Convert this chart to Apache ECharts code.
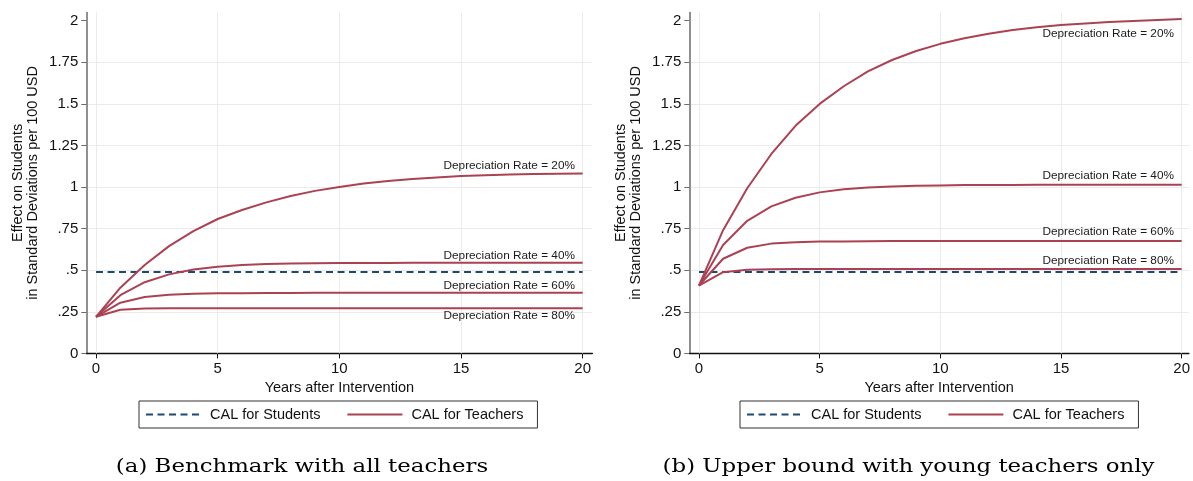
<!DOCTYPE html>
<html>
<head>
<meta charset="utf-8">
<script src="https://cdn.jsdelivr.net/npm/echarts@6/dist/echarts.min.js"></script>
<style>
  html, body { margin: 0; padding: 0; background: #fff; }
  #chart { width: 1193px; height: 481px; }
</style>
</head>
<body>
<div id="chart"></div>
<script>
// Years after the intervention (x axis)
const years = [0, 1, 2, 3, 4, 5, 6, 7, 8, 9, 10, 11, 12, 13, 14, 15, 16, 17, 18, 19, 20];

// Panel (a): benchmark with all teachers
const teachersA20 = [0.220, 0.395, 0.531, 0.645, 0.735, 0.808, 0.862, 0.908, 0.946, 0.977, 1.001, 1.021, 1.037, 1.049, 1.058, 1.066, 1.071, 1.075, 1.078, 1.080, 1.082];
const teachersA40 = [0.220, 0.350, 0.428, 0.475, 0.504, 0.521, 0.531, 0.537, 0.540, 0.542, 0.543, 0.544, 0.544, 0.545, 0.545, 0.545, 0.545, 0.545, 0.545, 0.545, 0.545];
const teachersA60 = [0.220, 0.305, 0.339, 0.353, 0.359, 0.361, 0.362, 0.363, 0.363, 0.364, 0.364, 0.364, 0.364, 0.364, 0.364, 0.364, 0.364, 0.364, 0.364, 0.364, 0.364];
const teachersA80 = [0.220, 0.262, 0.270, 0.272, 0.272, 0.272, 0.272, 0.272, 0.272, 0.272, 0.272, 0.272, 0.272, 0.272, 0.272, 0.272, 0.272, 0.272, 0.272, 0.272, 0.272];
const studentsA = 0.489;

// Panel (b): upper bound with young teachers only
const teachersB20 = [0.408, 0.741, 0.993, 1.199, 1.368, 1.500, 1.606, 1.695, 1.764, 1.818, 1.861, 1.895, 1.922, 1.944, 1.961, 1.974, 1.984, 1.992, 1.999, 2.005, 2.010];
const teachersB40 = [0.408, 0.652, 0.797, 0.884, 0.936, 0.968, 0.987, 0.998, 1.004, 1.008, 1.010, 1.012, 1.013, 1.013, 1.014, 1.014, 1.014, 1.014, 1.014, 1.014, 1.014];
const teachersB60 = [0.408, 0.569, 0.635, 0.660, 0.668, 0.672, 0.673, 0.674, 0.675, 0.675, 0.675, 0.675, 0.675, 0.675, 0.675, 0.675, 0.675, 0.675, 0.675, 0.675, 0.675];
const teachersB80 = [0.408, 0.488, 0.503, 0.506, 0.507, 0.508, 0.508, 0.508, 0.508, 0.508, 0.508, 0.508, 0.508, 0.508, 0.508, 0.508, 0.508, 0.508, 0.508, 0.508, 0.508];
const studentsB = 0.490;

// Curve labels
const rateLabels = ['Depreciation Rate = 20%', 'Depreciation Rate = 40%', 'Depreciation Rate = 60%', 'Depreciation Rate = 80%'];

// Axis ticks
const xTicks = [0, 5, 10, 15, 20];
const yTicks = [0, 0.25, 0.5, 0.75, 1, 1.25, 1.5, 1.75, 2];
const yTickLabels = ['0', '.25', '.5', '.75', '1', '1.25', '1.5', '1.75', '2'];

// Text
const captions = ['(a) Benchmark with all teachers', '(b) Upper bound with young teachers only'];
const legendNames = ['CAL for Students', 'CAL for Teachers'];
const xTitle = 'Years after Intervention';
const yTitle = 'Effect on Students\nin Standard Deviations per 100 USD';

const SANS = '"Liberation Sans", Arial, Helvetica, sans-serif';
const SERIF = '"DejaVu Serif", serif';
const RED = '#aa4253';
const NAVY = '#1d4a72';
const GRIDC = '#ebebeb';

const panels = [
  { teachers: [teachersA20, teachersA40, teachersA60, teachersA80], students: studentsA,
    grid: { left: 86.3, top: 12.4, width: 506.1, height: 341 }, xMax: 20.4,
    labelOffsets: [[-7.7, -7.6], [-7.7, -6.7], [-7.7, -7.3], [-7.7, 7.7]],
    captionX: 302, legendX: 139 },
  { teachers: [teachersB20, teachersB40, teachersB60, teachersB80], students: studentsB,
    grid: { left: 689.3, top: 12.4, width: 503.8, height: 341 }, xMax: 20.3,
    labelOffsets: [[-7.7, 15], [-7.7, -9], [-7.7, -9], [-7.7, -8.6]],
    captionX: 908.5, legendX: 740 }
];

function yLabel(v) {
  const i = yTicks.findIndex(t => Math.abs(t - v) < 1e-9);
  return i < 0 ? '' : yTickLabels[i];
}

const option = {
  backgroundColor: '#fff',
  animation: false,
  grid: panels.map(p => Object.assign({ containLabel: false }, p.grid)),
  xAxis: [],
  yAxis: [],
  legend: [],
  series: [],
  // sub-figure captions, widened to the serif face used in the paper
  graphic: panels.map((p, k) => ({
    type: 'text',
    x: p.captionX,
    y: 467.5,
    scaleX: 1.27,
    silent: true,
    style: {
      text: captions[k],
      font: '18px ' + SERIF,
      fill: '#000',
      align: 'center',
      verticalAlign: 'middle'
    }
  }))
};

panels.forEach((p, k) => {
  option.xAxis.push({
    type: 'value', gridIndex: k, min: -0.4, max: p.xMax,
    axisLine: { show: true, onZero: false, lineStyle: { color: '#111', width: 1.3 } },
    axisTick: { show: true, length: 5, customValues: xTicks, lineStyle: { color: '#111', width: 1 } },
    axisLabel: { customValues: xTicks, margin: 7.5, fontSize: 15, color: '#111', fontFamily: SANS },
    splitLine: { show: false },
    name: xTitle, nameLocation: 'middle', nameGap: 23,
    nameTextStyle: { fontSize: 14.5, color: '#111', fontFamily: SANS }
  });
  option.yAxis.push({
    type: 'value', gridIndex: k, min: 0, max: 2.05, interval: 0.25,
    axisLine: { show: true, onZero: false, lineStyle: { color: '#6b6b6b', width: 1.5 } },
    axisTick: { show: true, length: 5, customValues: yTicks, lineStyle: { color: '#6b6b6b', width: 1 } },
    axisLabel: { customValues: yTicks, formatter: yLabel, margin: 8, fontSize: 15, color: '#111', fontFamily: SANS },
    splitLine: { show: true, showMinLine: false, showMaxLine: false, lineStyle: { color: GRIDC, width: 1 } },
    name: yTitle, nameLocation: 'middle', nameGap: 46,
    nameTextStyle: { fontSize: 14.5, lineHeight: 15, color: '#111', fontFamily: SANS }
  });
  option.legend.push({
    left: p.legendX, top: 401, orient: 'horizontal',
    data: legendNames, selectedMode: false,
    itemWidth: 55, itemHeight: 14, itemGap: 26,
    padding: [6, 14, 6, 6],
    borderColor: '#333', borderWidth: 1, borderRadius: 0,
    itemStyle: { opacity: 0 },
    textStyle: { fontSize: 14.5, color: '#111', fontFamily: SANS, padding: [0, 0, 0, 4] }
  });

  // CAL for Students: flat dashed line, carrying the vertical gridlines
  option.series.push({
    name: legendNames[0], type: 'line', xAxisIndex: k, yAxisIndex: k,
    data: [[years[0], p.students], [years[years.length - 1], p.students]],
    symbol: 'none', showSymbol: false, z: 3,
    lineStyle: { color: NAVY, width: 2, type: [7, 4.5] },
    itemStyle: { color: NAVY },
    markLine: {
      silent: true, z: 1, symbol: ['none', 'none'], animation: false,
      label: { show: false },
      lineStyle: { color: GRIDC, width: 1, type: 'solid' },
      emphasis: { disabled: true },
      data: xTicks.map(v => ({ xAxis: v }))
    }
  });

  // CAL for Teachers: one curve per depreciation rate
  p.teachers.forEach((vals, j) => {
    option.series.push({
      name: legendNames[1], type: 'line', xAxisIndex: k, yAxisIndex: k,
      data: years.map((x, i) => [x, vals[i]]),
      symbol: 'none', showSymbol: false, z: 4,
      lineStyle: { color: RED, width: 2 },
      itemStyle: { color: RED },
      endLabel: {
        show: true, formatter: rateLabels[j],
        align: 'right', verticalAlign: 'middle', distance: 0,
        offset: p.labelOffsets[j],
        fontSize: 11.8, color: '#1a1a1a', fontFamily: SANS
      }
    });
  });
});

const chart = echarts.init(document.getElementById('chart'), null, { renderer: 'canvas' });
chart.setOption(option);
</script>
</body>
</html>
